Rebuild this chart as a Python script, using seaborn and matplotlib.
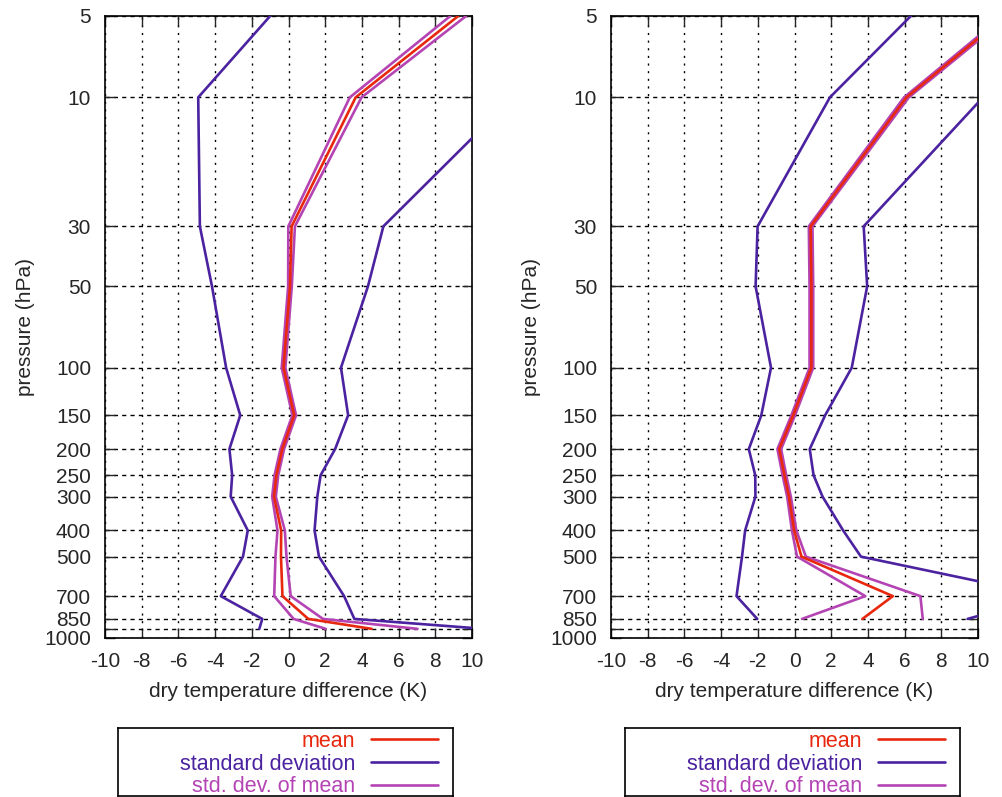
import numpy as np
import pandas as pd
import matplotlib.pyplot as plt
import seaborn as sns
from matplotlib.lines import Line2D

# pressure levels (hPa)
p_left = [5, 10, 30, 50, 100, 150, 200, 250, 300, 400, 500, 700, 850, 925]
p_right = [5, 10, 30, 50, 100, 150, 200, 250, 300, 400, 500, 700, 850]

# left panel: mean, standard deviation, std. dev. of mean (K)
mean_left = [9.25, 3.66, 0.17, 0.08, -0.27, 0.31, -0.34, -0.66, -0.79, -0.4, -0.41, -0.33, 1.08, 4.53]
sd_left = [10.25, 8.58, 5.0, 4.25, 3.13, 2.94, 2.88, 2.41, 2.36, 1.82, 2.07, 3.36, 2.51, 6.12]
sem_left = [0.43, 0.32, 0.18, 0.1, 0.1, 0.1, 0.1, 0.1, 0.1, 0.2, 0.3, 0.45, 0.8, 2.5]

# right panel
mean_right = [11.5, 6.1, 0.88, 0.92, 0.92, -0.07, -0.83, -0.55, -0.3, -0.02, 0.38, 5.36, 3.7]
sd_right = [5.16, 4.17, 2.89, 3.04, 2.2, 1.74, 1.66, 1.59, 1.83, 2.67, 3.24, 8.52, 5.73]
sem_right = [0.15, 0.13, 0.1, 0.1, 0.1, 0.1, 0.1, 0.1, 0.1, 0.12, 0.24, 1.5, 3.29]

yticks = [5, 10, 30, 50, 100, 150, 200, 250, 300, 400, 500, 700, 850, 925, 1000]
ytick_labels = ['5', '10', '30', '50', '100', '150', '200', '250', '300', '400', '500', '700', '850', '', '1000']
xticks = list(range(-10, 11, 2))

labels = ['mean', 'standard deviation', 'std. dev. of mean']
c_mean = '#e8280e'
c_sd = '#4b22a0'
c_sem = '#b444b4'

sns.set_style('ticks')
plt.rcParams['font.family'] = ['Liberation Sans', 'DejaVu Sans']
plt.rcParams['axes.unicode_minus'] = False
plt.rcParams['font.size'] = 15

fig = plt.figure(figsize=(10.02, 7.97), dpi=100)
W, H = 1002, 797


def draw_panel(ax, p, mean, sd, sem):
    df = pd.DataFrame({'p': p, 'mean': mean, 'sd': sd, 'sem': sem})
    lw = 1.9
    kw = dict(y='p', orient='y', estimator=None, sort=False, ax=ax, legend=False)
    sns.lineplot(data=df.assign(v=df['mean'] - df['sd']), x='v', color=c_sd, lw=lw, zorder=3, **kw)
    sns.lineplot(data=df.assign(v=df['mean'] + df['sd']), x='v', color=c_sd, lw=lw, zorder=3, **kw)
    sns.lineplot(data=df.assign(v=df['mean'] - df['sem']), x='v', color=c_sem, lw=lw, zorder=4, **kw)
    sns.lineplot(data=df.assign(v=df['mean'] + df['sem']), x='v', color=c_sem, lw=lw, zorder=4, **kw)
    sns.lineplot(data=df, x='mean', color=c_mean, lw=lw, zorder=5, **kw)

    ax.set_yscale('log')
    ax.set_ylim(1000, 5)
    ax.set_xlim(-10, 10)
    ax.set_yticks(yticks)
    ax.set_yticklabels(ytick_labels)
    ax.minorticks_off()
    ax.set_xticks(xticks)
    ax.set_xticklabels([str(t) for t in xticks])
    ax.tick_params(direction='in', length=7, width=1, top=True, right=True, pad=10, labelsize=15)
    ax.xaxis.grid(True, color='black', lw=1, ls=(0, (1.5, 4)))
    ax.yaxis.grid(True, color='black', lw=1, ls=(0, (3, 3)))
    for s in ax.spines.values():
        s.set_linewidth(1.2)
        s.set_color('black')
    ax.set_xlabel('dry temperature difference (K)', fontsize=15, labelpad=8)
    ax.set_ylabel('pressure (hPa)', fontsize=15, labelpad=7)


ax1 = fig.add_axes([105 / W, 1 - 638 / H, 367 / W, 622 / H])
ax2 = fig.add_axes([611 / W, 1 - 638 / H, 367 / W, 622 / H])
draw_panel(ax1, p_left, mean_left, sd_left, sem_left)
draw_panel(ax2, p_right, mean_right, sd_right, sem_right)

handles = [Line2D([], [], color=c, lw=1.9) for c in (c_mean, c_sd, c_sem)]
for x0 in (118, 625):
    lax = fig.add_axes([x0 / W, 1 - 796 / H, 335 / W, 68 / H])
    lax.set_xticks([])
    lax.set_yticks([])
    for s in lax.spines.values():
        s.set_linewidth(1.2)
        s.set_color('black')
    lax.legend(handles, labels, loc='center right', frameon=False, markerfirst=False,
               labelcolor='linecolor', fontsize=15.5, handlelength=3.1, handletextpad=0.75,
               labelspacing=0.08, borderpad=0.2, borderaxespad=0.5,
               bbox_to_anchor=(1, 0.47))

fig.savefig('out.png', dpi=100)
